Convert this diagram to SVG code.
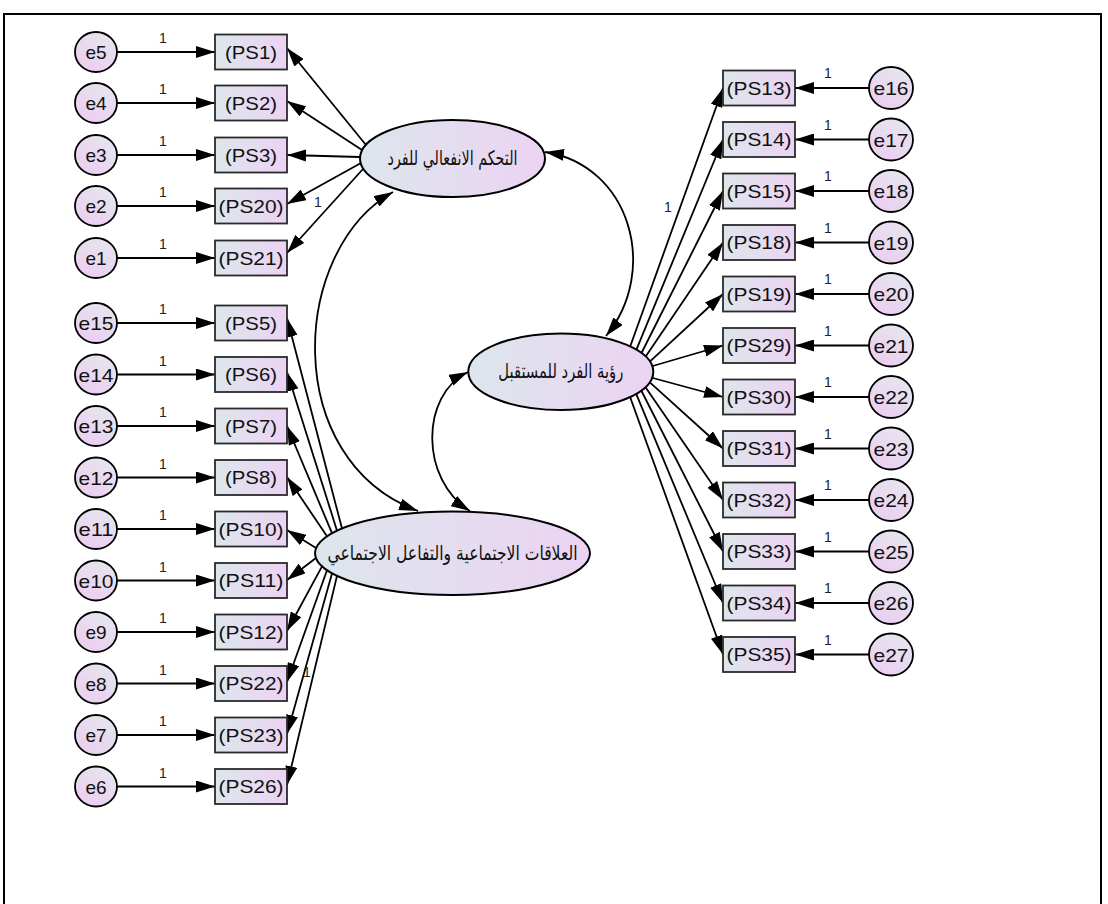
<svg xmlns="http://www.w3.org/2000/svg" width="1108" height="904" viewBox="0 0 1108 904">
<style>
.ln{stroke:#000;stroke-width:1.8;fill:none;marker-end:url(#ah)}
.cv{stroke:#000;stroke-width:1.8;fill:none;marker-end:url(#ah);marker-start:url(#ahs)}
.box{fill:url(#gBox);stroke:#2a2a2a;stroke-width:1.8}
.err{fill:url(#gErr);stroke:#000;stroke-width:1.8}
.lat{fill:url(#gLat);stroke:#000;stroke-width:2}
.t{font-family:"Liberation Sans",Arial,sans-serif;fill:#111;text-anchor:middle}
.bt{font-size:18px}
.et{font-size:19px}
.one{font-size:14px;fill:#222}
.ar{font-family:"DejaVu Sans","Noto Sans",sans-serif;font-size:20px;fill:#111;text-anchor:middle}
</style>
<defs>
<linearGradient id="gBox" x1="0" y1="0" x2="1" y2="0"><stop offset="0" stop-color="#dde6ec"/><stop offset="1" stop-color="#ecd3f3"/></linearGradient>
<linearGradient id="gLat" x1="0" y1="0" x2="1" y2="0"><stop offset="0" stop-color="#dde6ec"/><stop offset="1" stop-color="#ecd3f3"/></linearGradient>
<linearGradient id="gErr" x1="0.8" y1="0" x2="0.2" y2="1"><stop offset="0" stop-color="#e6e6ee"/><stop offset="1" stop-color="#ebcdf1"/></linearGradient>
<marker id="ah" viewBox="0 0 19 12" refX="19" refY="6" markerWidth="19" markerHeight="12" markerUnits="userSpaceOnUse" orient="auto"><path d="M0,0 L19,6 L0,12 z" fill="#000"/></marker>
<marker id="ahs" viewBox="0 0 19 12" refX="19" refY="6" markerWidth="19" markerHeight="12" markerUnits="userSpaceOnUse" orient="auto-start-reverse"><path d="M0,0 L19,6 L0,12 z" fill="#000"/></marker>
</defs>
<rect x="4" y="14" width="1097" height="900" fill="#fff" stroke="#000" stroke-width="2"/>
<g id="connectors">
<line class="ln" x1="117" y1="52" x2="215" y2="52"/>
<line class="ln" x1="117" y1="103" x2="215" y2="103"/>
<line class="ln" x1="117" y1="155" x2="215" y2="155"/>
<line class="ln" x1="117" y1="206" x2="215" y2="206"/>
<line class="ln" x1="117" y1="258" x2="215" y2="258"/>
<line class="ln" x1="117" y1="323" x2="215" y2="323"/>
<line class="ln" x1="117" y1="374.5" x2="215" y2="374.5"/>
<line class="ln" x1="117" y1="426" x2="215" y2="426"/>
<line class="ln" x1="117" y1="477.5" x2="215" y2="477.5"/>
<line class="ln" x1="117" y1="529" x2="215" y2="529"/>
<line class="ln" x1="117" y1="580.5" x2="215" y2="580.5"/>
<line class="ln" x1="117" y1="632" x2="215" y2="632"/>
<line class="ln" x1="117" y1="683.5" x2="215" y2="683.5"/>
<line class="ln" x1="117" y1="735" x2="215" y2="735"/>
<line class="ln" x1="117" y1="786.5" x2="215" y2="786.5"/>
<line class="ln" x1="869" y1="88" x2="795" y2="88"/>
<line class="ln" x1="869" y1="139.5" x2="795" y2="139.5"/>
<line class="ln" x1="869" y1="191" x2="795" y2="191"/>
<line class="ln" x1="869" y1="242.5" x2="795" y2="242.5"/>
<line class="ln" x1="869" y1="294" x2="795" y2="294"/>
<line class="ln" x1="869" y1="345.5" x2="795" y2="345.5"/>
<line class="ln" x1="869" y1="397" x2="795" y2="397"/>
<line class="ln" x1="869" y1="448.5" x2="795" y2="448.5"/>
<line class="ln" x1="869" y1="500" x2="795" y2="500"/>
<line class="ln" x1="869" y1="551.5" x2="795" y2="551.5"/>
<line class="ln" x1="869" y1="603" x2="795" y2="603"/>
<line class="ln" x1="869" y1="654.5" x2="795" y2="654.5"/>
<line class="ln" x1="366" y1="145" x2="287" y2="48"/>
<line class="ln" x1="362" y1="150" x2="287" y2="101"/>
<line class="ln" x1="360" y1="157" x2="287" y2="155"/>
<line class="ln" x1="361" y1="163" x2="287" y2="204"/>
<line class="ln" x1="363" y1="169" x2="287" y2="253"/>
<line class="ln" x1="630" y1="347" x2="723" y2="88"/>
<line class="ln" x1="636" y1="350.6" x2="723" y2="139.5"/>
<line class="ln" x1="641" y1="354" x2="723" y2="191"/>
<line class="ln" x1="645" y1="357.5" x2="723" y2="242.5"/>
<line class="ln" x1="649" y1="362.4" x2="723" y2="294"/>
<line class="ln" x1="651" y1="366.5" x2="723" y2="345.5"/>
<line class="ln" x1="651" y1="377.5" x2="723" y2="397"/>
<line class="ln" x1="649" y1="381.6" x2="723" y2="448.5"/>
<line class="ln" x1="645" y1="386.5" x2="723" y2="500"/>
<line class="ln" x1="641" y1="390" x2="723" y2="551.5"/>
<line class="ln" x1="636" y1="393.4" x2="723" y2="603"/>
<line class="ln" x1="630" y1="396.7" x2="723" y2="654.5"/>
<line class="ln" x1="342" y1="528.5" x2="287" y2="318"/>
<line class="ln" x1="337" y1="530.7" x2="287" y2="372"/>
<line class="ln" x1="332" y1="533.2" x2="287" y2="426"/>
<line class="ln" x1="327" y1="536.3" x2="287" y2="477"/>
<line class="ln" x1="316" y1="548" x2="287" y2="530"/>
<line class="ln" x1="316" y1="558" x2="287" y2="580"/>
<line class="ln" x1="322" y1="566.4" x2="287" y2="631"/>
<line class="ln" x1="327" y1="570.3" x2="287" y2="682"/>
<line class="ln" x1="332" y1="573.4" x2="287" y2="734"/>
<line class="ln" x1="337" y1="575.9" x2="287" y2="785"/>
<path class="cv" d="M393,192 C290,250 280,460 418,511"/>
<path class="cv" d="M545,152 C630,165 660,270 606,336"/>
<path class="cv" d="M468,372 C420,395 420,480 470,511"/>
<g class="t one">
<text x="163" y="43">1</text><text x="163" y="94">1</text><text x="163" y="146">1</text><text x="163" y="197">1</text><text x="163" y="249">1</text>
<text x="163" y="314">1</text><text x="163" y="365.5">1</text><text x="163" y="417">1</text><text x="163" y="468.5">1</text><text x="163" y="520">1</text>
<text x="163" y="571.5">1</text><text x="163" y="623">1</text><text x="163" y="674.5">1</text><text x="163" y="726">1</text><text x="163" y="777.5">1</text>
<text x="828" y="78">1</text><text x="828" y="129.5">1</text><text x="828" y="181">1</text><text x="828" y="232.5">1</text><text x="828" y="284">1</text><text x="828" y="335.5">1</text>
<text x="828" y="387">1</text><text x="828" y="438.5">1</text><text x="828" y="490">1</text><text x="828" y="541.5">1</text><text x="828" y="593">1</text><text x="828" y="644.5">1</text>
<text x="318" y="207">1</text><text x="668" y="212">1</text><text x="307" y="677">1</text>
</g>
</g>
<g id="F1"><ellipse class="lat" cx="452.5" cy="158.5" rx="92.5" ry="38.5"/><text class="ar" x="452.5" y="165" textLength="130" lengthAdjust="spacingAndGlyphs">التحكم الانفعالي للفرد</text></g>
<g id="F2"><ellipse class="lat" cx="560.8" cy="371.7" rx="92.5" ry="38.3"/><text class="ar" x="560.8" y="378" textLength="125" lengthAdjust="spacingAndGlyphs">رؤية الفرد للمستقبل</text></g>
<g id="F3"><ellipse class="lat" cx="452.5" cy="553.3" rx="137.5" ry="41.7"/><text class="ar" x="452.5" y="560" textLength="250" lengthAdjust="spacingAndGlyphs">العلاقات الاجتماعية والتفاعل الاجتماعي</text></g>
<g id="PS1"><rect class="box" x="215" y="34.5" width="72" height="35"/><text class="t bt" x="251" y="58.5" textLength="52" lengthAdjust="spacingAndGlyphs">(PS1)</text></g>
<g id="PS2"><rect class="box" x="215" y="85.5" width="72" height="35"/><text class="t bt" x="251" y="109.5" textLength="52" lengthAdjust="spacingAndGlyphs">(PS2)</text></g>
<g id="PS3"><rect class="box" x="215" y="137.5" width="72" height="35"/><text class="t bt" x="251" y="161.5" textLength="52" lengthAdjust="spacingAndGlyphs">(PS3)</text></g>
<g id="PS20"><rect class="box" x="215" y="188.5" width="72" height="35"/><text class="t bt" x="251" y="212.5" textLength="65" lengthAdjust="spacingAndGlyphs">(PS20)</text></g>
<g id="PS21"><rect class="box" x="215" y="240.5" width="72" height="35"/><text class="t bt" x="251" y="264.5" textLength="65" lengthAdjust="spacingAndGlyphs">(PS21)</text></g>
<g id="PS5"><rect class="box" x="215" y="305.5" width="72" height="35"/><text class="t bt" x="251" y="329.5" textLength="52" lengthAdjust="spacingAndGlyphs">(PS5)</text></g>
<g id="PS6"><rect class="box" x="215" y="357" width="72" height="35"/><text class="t bt" x="251" y="381" textLength="52" lengthAdjust="spacingAndGlyphs">(PS6)</text></g>
<g id="PS7"><rect class="box" x="215" y="408.5" width="72" height="35"/><text class="t bt" x="251" y="432.5" textLength="52" lengthAdjust="spacingAndGlyphs">(PS7)</text></g>
<g id="PS8"><rect class="box" x="215" y="460" width="72" height="35"/><text class="t bt" x="251" y="484" textLength="52" lengthAdjust="spacingAndGlyphs">(PS8)</text></g>
<g id="PS10"><rect class="box" x="215" y="511.5" width="72" height="35"/><text class="t bt" x="251" y="535.5" textLength="65" lengthAdjust="spacingAndGlyphs">(PS10)</text></g>
<g id="PS11"><rect class="box" x="215" y="563" width="72" height="35"/><text class="t bt" x="251" y="587" textLength="65" lengthAdjust="spacingAndGlyphs">(PS11)</text></g>
<g id="PS12"><rect class="box" x="215" y="614.5" width="72" height="35"/><text class="t bt" x="251" y="638.5" textLength="65" lengthAdjust="spacingAndGlyphs">(PS12)</text></g>
<g id="PS22"><rect class="box" x="215" y="666" width="72" height="35"/><text class="t bt" x="251" y="690" textLength="65" lengthAdjust="spacingAndGlyphs">(PS22)</text></g>
<g id="PS23"><rect class="box" x="215" y="717.5" width="72" height="35"/><text class="t bt" x="251" y="741.5" textLength="65" lengthAdjust="spacingAndGlyphs">(PS23)</text></g>
<g id="PS26"><rect class="box" x="215" y="769" width="72" height="35"/><text class="t bt" x="251" y="793" textLength="65" lengthAdjust="spacingAndGlyphs">(PS26)</text></g>
<g id="e5"><ellipse class="err" cx="96" cy="52" rx="21" ry="20"/><text class="t et" x="96" y="59">e5</text></g>
<g id="e4"><ellipse class="err" cx="96" cy="103" rx="21" ry="20"/><text class="t et" x="96" y="110">e4</text></g>
<g id="e3"><ellipse class="err" cx="96" cy="155" rx="21" ry="20"/><text class="t et" x="96" y="162">e3</text></g>
<g id="e2"><ellipse class="err" cx="96" cy="206" rx="21" ry="20"/><text class="t et" x="96" y="213">e2</text></g>
<g id="e1"><ellipse class="err" cx="96" cy="258" rx="21" ry="20"/><text class="t et" x="96" y="265">e1</text></g>
<g id="e15"><ellipse class="err" cx="96" cy="323" rx="21" ry="20"/><text class="t et" x="96" y="330" textLength="35" lengthAdjust="spacingAndGlyphs">e15</text></g>
<g id="e14"><ellipse class="err" cx="96" cy="374.5" rx="21" ry="20"/><text class="t et" x="96" y="381.5" textLength="35" lengthAdjust="spacingAndGlyphs">e14</text></g>
<g id="e13"><ellipse class="err" cx="96" cy="426" rx="21" ry="20"/><text class="t et" x="96" y="433" textLength="35" lengthAdjust="spacingAndGlyphs">e13</text></g>
<g id="e12"><ellipse class="err" cx="96" cy="477.5" rx="21" ry="20"/><text class="t et" x="96" y="484.5" textLength="35" lengthAdjust="spacingAndGlyphs">e12</text></g>
<g id="e11"><ellipse class="err" cx="96" cy="529" rx="21" ry="20"/><text class="t et" x="96" y="536" textLength="35" lengthAdjust="spacingAndGlyphs">e11</text></g>
<g id="e10"><ellipse class="err" cx="96" cy="580.5" rx="21" ry="20"/><text class="t et" x="96" y="587.5" textLength="35" lengthAdjust="spacingAndGlyphs">e10</text></g>
<g id="e9"><ellipse class="err" cx="96" cy="632" rx="21" ry="20"/><text class="t et" x="96" y="639">e9</text></g>
<g id="e8"><ellipse class="err" cx="96" cy="683.5" rx="21" ry="20"/><text class="t et" x="96" y="690.5">e8</text></g>
<g id="e7"><ellipse class="err" cx="96" cy="735" rx="21" ry="20"/><text class="t et" x="96" y="742">e7</text></g>
<g id="e6"><ellipse class="err" cx="96" cy="786.5" rx="21" ry="20"/><text class="t et" x="96" y="793.5">e6</text></g>
<g id="PS13"><rect class="box" x="723" y="70.5" width="72" height="35"/><text class="t bt" x="759" y="94.5" textLength="65" lengthAdjust="spacingAndGlyphs">(PS13)</text></g>
<g id="PS14"><rect class="box" x="723" y="122" width="72" height="35"/><text class="t bt" x="759" y="146" textLength="65" lengthAdjust="spacingAndGlyphs">(PS14)</text></g>
<g id="PS15"><rect class="box" x="723" y="173.5" width="72" height="35"/><text class="t bt" x="759" y="197.5" textLength="65" lengthAdjust="spacingAndGlyphs">(PS15)</text></g>
<g id="PS18"><rect class="box" x="723" y="225" width="72" height="35"/><text class="t bt" x="759" y="249" textLength="65" lengthAdjust="spacingAndGlyphs">(PS18)</text></g>
<g id="PS19"><rect class="box" x="723" y="276.5" width="72" height="35"/><text class="t bt" x="759" y="300.5" textLength="65" lengthAdjust="spacingAndGlyphs">(PS19)</text></g>
<g id="PS29"><rect class="box" x="723" y="328" width="72" height="35"/><text class="t bt" x="759" y="352" textLength="65" lengthAdjust="spacingAndGlyphs">(PS29)</text></g>
<g id="PS30"><rect class="box" x="723" y="379.5" width="72" height="35"/><text class="t bt" x="759" y="403.5" textLength="65" lengthAdjust="spacingAndGlyphs">(PS30)</text></g>
<g id="PS31"><rect class="box" x="723" y="431" width="72" height="35"/><text class="t bt" x="759" y="455" textLength="65" lengthAdjust="spacingAndGlyphs">(PS31)</text></g>
<g id="PS32"><rect class="box" x="723" y="482.5" width="72" height="35"/><text class="t bt" x="759" y="506.5" textLength="65" lengthAdjust="spacingAndGlyphs">(PS32)</text></g>
<g id="PS33"><rect class="box" x="723" y="534" width="72" height="35"/><text class="t bt" x="759" y="558" textLength="65" lengthAdjust="spacingAndGlyphs">(PS33)</text></g>
<g id="PS34"><rect class="box" x="723" y="585.5" width="72" height="35"/><text class="t bt" x="759" y="609.5" textLength="65" lengthAdjust="spacingAndGlyphs">(PS34)</text></g>
<g id="PS35"><rect class="box" x="723" y="637" width="72" height="35"/><text class="t bt" x="759" y="661" textLength="65" lengthAdjust="spacingAndGlyphs">(PS35)</text></g>
<g id="e16"><ellipse class="err" cx="891" cy="88" rx="22" ry="21"/><text class="t et" x="891" y="95" textLength="35" lengthAdjust="spacingAndGlyphs">e16</text></g>
<g id="e17"><ellipse class="err" cx="891" cy="139.5" rx="22" ry="21"/><text class="t et" x="891" y="146.5" textLength="35" lengthAdjust="spacingAndGlyphs">e17</text></g>
<g id="e18"><ellipse class="err" cx="891" cy="191" rx="22" ry="21"/><text class="t et" x="891" y="198" textLength="35" lengthAdjust="spacingAndGlyphs">e18</text></g>
<g id="e19"><ellipse class="err" cx="891" cy="242.5" rx="22" ry="21"/><text class="t et" x="891" y="249.5" textLength="35" lengthAdjust="spacingAndGlyphs">e19</text></g>
<g id="e20"><ellipse class="err" cx="891" cy="294" rx="22" ry="21"/><text class="t et" x="891" y="301" textLength="35" lengthAdjust="spacingAndGlyphs">e20</text></g>
<g id="e21"><ellipse class="err" cx="891" cy="345.5" rx="22" ry="21"/><text class="t et" x="891" y="352.5" textLength="35" lengthAdjust="spacingAndGlyphs">e21</text></g>
<g id="e22"><ellipse class="err" cx="891" cy="397" rx="22" ry="21"/><text class="t et" x="891" y="404" textLength="35" lengthAdjust="spacingAndGlyphs">e22</text></g>
<g id="e23"><ellipse class="err" cx="891" cy="448.5" rx="22" ry="21"/><text class="t et" x="891" y="455.5" textLength="35" lengthAdjust="spacingAndGlyphs">e23</text></g>
<g id="e24"><ellipse class="err" cx="891" cy="500" rx="22" ry="21"/><text class="t et" x="891" y="507" textLength="35" lengthAdjust="spacingAndGlyphs">e24</text></g>
<g id="e25"><ellipse class="err" cx="891" cy="551.5" rx="22" ry="21"/><text class="t et" x="891" y="558.5" textLength="35" lengthAdjust="spacingAndGlyphs">e25</text></g>
<g id="e26"><ellipse class="err" cx="891" cy="603" rx="22" ry="21"/><text class="t et" x="891" y="610" textLength="35" lengthAdjust="spacingAndGlyphs">e26</text></g>
<g id="e27"><ellipse class="err" cx="891" cy="654.5" rx="22" ry="21"/><text class="t et" x="891" y="661.5" textLength="35" lengthAdjust="spacingAndGlyphs">e27</text></g>
</svg>
